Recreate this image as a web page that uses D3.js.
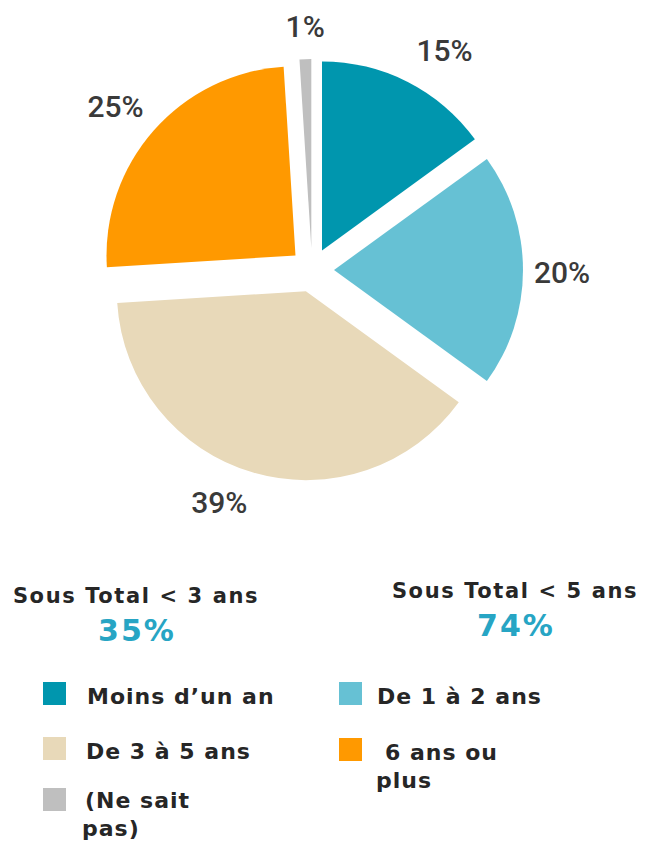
<!DOCTYPE html>
<html>
<head>
<meta charset="utf-8">
<script src="https://cdn.jsdelivr.net/npm/d3@7"></script>
<style>
  body { margin: 0; background: #fff; }
  svg { display: block; }
</style>
</head>
<body>
<div id="chart"></div>
<script>
// data
var categories = ["Moins d\u2019un an", "De 1 \u00e0 2 ans", "De 3 \u00e0 5 ans", "6 ans ou plus", "(Ne sait pas)"];
var values = [15, 20, 39, 25, 1];
var colors = ["#0096ae", "#66c1d4", "#e8d9b9", "#ff9900", "#bfbfbf"];
var subTotalLabels = ["Sous Total < 3 ans", "Sous Total < 5 ans"];
var subTotalValues = [35, 74];

var width = 646, height = 841;
var cx = 312, cy = 270, radius = 189, explode = 22, labelR = 250;

var svg = d3.select("#chart")
    .append("svg")
    .attr("width", width)
    .attr("height", height);

var pie = d3.pie().sort(null).value(function(d) { return d; });
var arc = d3.arc().innerRadius(0).outerRadius(radius);
var arcs = pie(values);

var g = svg.append("g").attr("transform", "translate(" + cx + "," + cy + ")");

function offset(d, r) {
    var a = (d.startAngle + d.endAngle) / 2;
    return [Math.sin(a) * r, -Math.cos(a) * r];
}

g.selectAll("path")
    .data(arcs)
    .enter()
    .append("path")
    .attr("d", arc)
    .attr("fill", function(d, i) { return colors[i]; })
    .attr("transform", function(d) {
        var o = offset(d, explode);
        return "translate(" + o[0] + "," + o[1] + ")";
    });

// small nudges so labels sit where the original placed them
var nudge = [[19, 3], [0, 2], [-23, -8], [-9, 2], [1, 6]];

g.selectAll(".lbl")
    .data(arcs)
    .enter()
    .append("text")
    .attr("class", "lbl")
    .attr("x", function(d, i) { return offset(d, labelR)[0] + nudge[i][0]; })
    .attr("y", function(d, i) { return offset(d, labelR)[1] + nudge[i][1]; })
    .attr("dy", "0.36em")
    .attr("text-anchor", "middle")
    .attr("font-family", "Roboto, sans-serif")
    .attr("font-weight", 500)
    .attr("font-size", 30)
    .attr("fill", "#3a3a3a")
    .text(function(d) { return d.data + "%"; });

// sub totals
var subX = [136, 515], subY = [603, 598];
subTotalLabels.forEach(function(t, i) {
    svg.append("text")
        .attr("x", subX[i]).attr("y", subY[i])
        .attr("text-anchor", "middle")
        .attr("font-family", "DejaVu Sans, sans-serif")
        .attr("font-weight", "bold")
        .attr("font-size", 21)
        .attr("letter-spacing", 1.6)
        .attr("fill", "#262626")
        .text(t);
    svg.append("text")
        .attr("x", subX[i] + 1).attr("y", subY[i] + 38)
        .attr("text-anchor", "middle")
        .attr("font-family", "DejaVu Sans, sans-serif")
        .attr("font-weight", "bold")
        .attr("font-size", 30)
        .attr("letter-spacing", 2)
        .attr("fill", "#27a5c4")
        .text(subTotalValues[i] + "%");
});

// legend
var legendItems = [
    {i: 0, x: 43, y: 682, tx: 87, ty: 704, lines: ["Moins d\u2019un an"]},
    {i: 1, x: 339, y: 682, tx: 377, ty: 704, lines: ["De 1 \u00e0 2 ans"]},
    {i: 2, x: 43, y: 737, tx: 86, ty: 759, lines: ["De 3 \u00e0 5 ans"]},
    {i: 3, x: 339, y: 738, tx: 385, ty: 760, lines: ["6 ans ou", "plus"], tx2: 376},
    {i: 4, x: 43, y: 788, tx: 85, ty: 808, lines: ["(Ne sait", "pas)"], tx2: 82}
];

var leg = svg.append("g");
legendItems.forEach(function(it) {
    leg.append("rect")
        .attr("x", it.x).attr("y", it.y)
        .attr("width", 23).attr("height", 23)
        .attr("fill", colors[it.i]);
    it.lines.forEach(function(line, k) {
        leg.append("text")
            .attr("x", k === 0 ? it.tx : it.tx2)
            .attr("y", it.ty + k * 28)
            .attr("font-family", "DejaVu Sans, sans-serif")
            .attr("font-weight", "bold")
            .attr("font-size", 22)
            .attr("letter-spacing", 1)
            .attr("fill", "#262626")
            .text(line);
    });
});
</script>
</body>
</html>
